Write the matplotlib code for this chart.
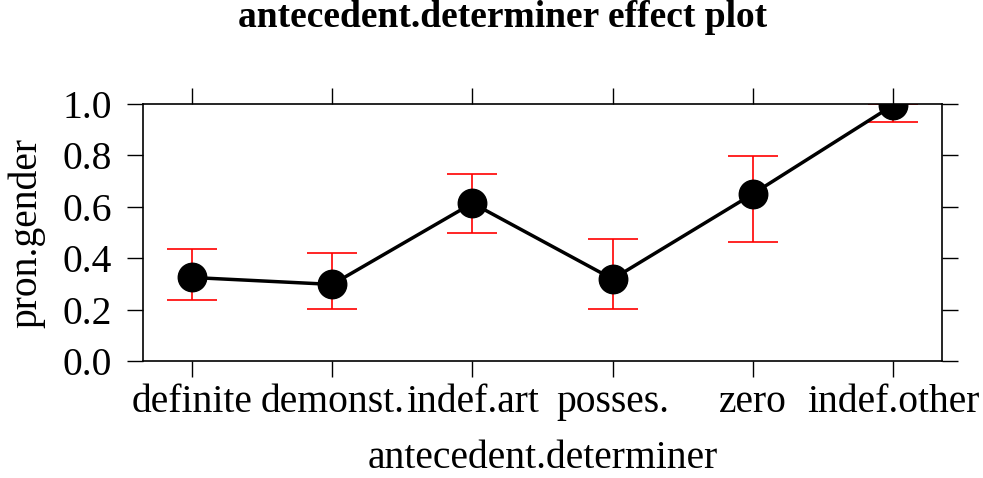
import matplotlib
matplotlib.use("Agg")
import matplotlib.pyplot as plt

plt.rcParams['font.family'] = ['Liberation Serif', 'DejaVu Serif']

# Effect estimates for each antecedent determiner level, with confidence bounds
categories = ["definite", "demonst.", "indef.art", "posses.", "zero", "indef.other"]
fit = [0.325, 0.298, 0.614, 0.319, 0.650, 0.995]
lower = [0.237, 0.202, 0.497, 0.202, 0.462, 0.931]
upper = [0.434, 0.420, 0.729, 0.476, 0.798, 1.000]
yticks = [0.0, 0.2, 0.4, 0.6, 0.8, 1.0]

W, H = 983, 478
fig = plt.figure(figsize=(W / 100, H / 100), dpi=100)
ax = fig.add_axes([143 / W, 1 - 361 / H, (942 - 143) / W, (361 - 104) / H])

x = list(range(1, len(categories) + 1))
err_lo = [f - lo for f, lo in zip(fit, lower)]
err_hi = [hi - f for f, hi in zip(fit, upper)]

ax.errorbar(x, fit, yerr=[err_lo, err_hi], fmt='none', ecolor='red',
            elinewidth=1.2, capsize=18, capthick=1.2, zorder=2)
ax.plot(x, fit, color='black', lw=2.5, zorder=3)
ax.plot(x, fit, 'o', color='black', markersize=20.5, zorder=4)

ax.set_xlim(0.65, 6.35)
ax.set_ylim(0.0, 1.0)
ax.set_xticks(x)
ax.set_xticklabels(categories)
ax.set_yticks(yticks)
ax.set_yticklabels([f"{v:.1f}" for v in yticks])

ax.tick_params(axis='both', direction='out', length=11.5, width=1.0,
               labelsize=28.5, top=True, right=True, color='black')
ax.tick_params(axis='y', pad=11)
ax.tick_params(axis='x', pad=5)
for sp in ax.spines.values():
    sp.set_linewidth(1.2)
    sp.set_zorder(5)

fig.text(503 / W, 1 - 27 / H, "antecedent.determiner effect plot",
         ha='center', va='baseline', fontsize=27, fontweight='bold')
fig.text((143 + 942) / 2 / W, 0.002, "antecedent.determiner",
         ha='center', va='bottom', fontsize=28.5)
fig.text(27 / W, 1 - 233 / H, "pron.gender", rotation=90,
         ha='center', va='center', fontsize=28.5)

fig.savefig("out.png", dpi=100)
